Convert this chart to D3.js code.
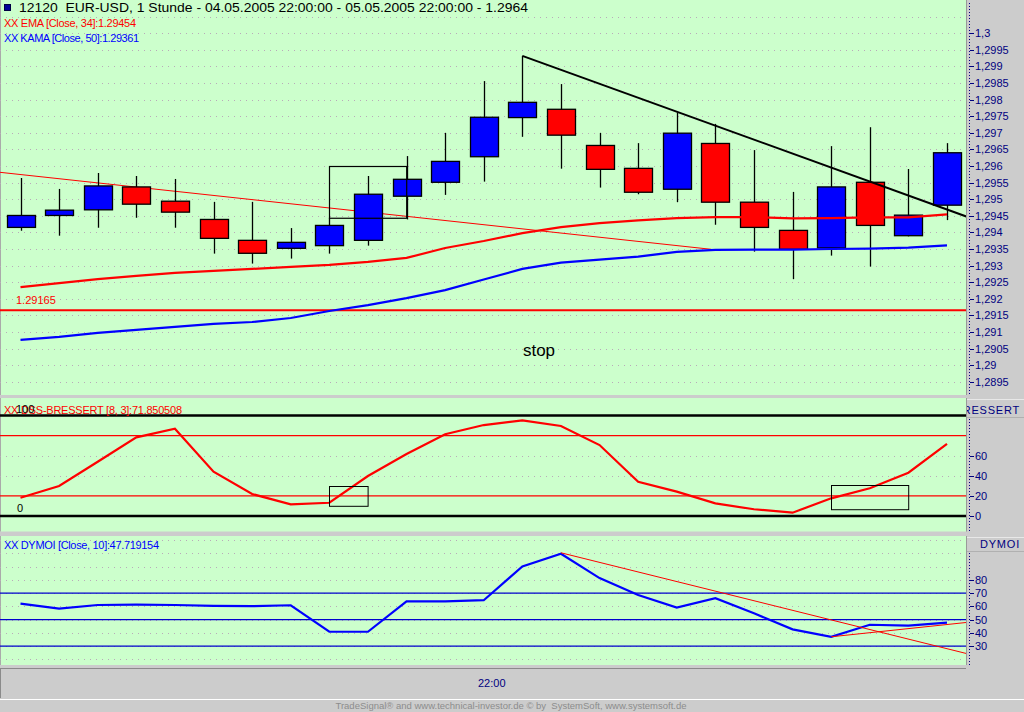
<!DOCTYPE html>
<html><head><meta charset="utf-8">
<script src="https://cdn.jsdelivr.net/npm/d3@7"></script>
<style>
html,body{margin:0;padding:0;background:#cccccc;}
svg{display:block;}
text{font-family:"Liberation Sans",Arial,sans-serif;}
</style></head><body>
<svg id="c" width="1024" height="712"></svg>
<script>
// ---------- DATA ----------
const times = ["22:00","23:00","00:00","01:00","02:00","03:00","04:00","05:00","06:00","07:00","08:00","09:00","10:00",
  "11:00","12:00","13:00","14:00","15:00","16:00","17:00","18:00","19:00","20:00","21:00","22:00"];
const open  = [1.29415,1.29451,1.29468,1.29537,1.29494,1.29439,1.29376,1.29352,1.29360,1.29376,1.29509,1.29551,1.29628,
  1.29746,1.29771,1.29662,1.29593,1.29530,1.29668,1.29491,1.29406,1.29353,1.29551,1.29390,1.29482];
const high  = [1.29564,1.29531,1.29579,1.29570,1.29561,1.29492,1.29492,1.29413,1.29444,1.29570,1.29630,1.29700,1.29856,
  1.29932,1.29847,1.29700,1.29669,1.29761,1.29727,1.29648,1.29522,1.29660,1.29717,1.29591,1.29669];
const low   = [1.29405,1.29390,1.29414,1.29444,1.29414,1.29336,1.29306,1.29321,1.29336,1.29360,1.29439,1.29513,1.29553,
  1.29688,1.29592,1.29535,1.29515,1.29491,1.29423,1.29342,1.29259,1.29330,1.29297,1.29388,1.29437];
const close = [1.29451,1.29467,1.29540,1.29485,1.29461,1.29382,1.29337,1.29370,1.29421,1.29515,1.29560,1.29614,1.29747,
  1.29792,1.29693,1.29590,1.29521,1.29699,1.29491,1.29415,1.29349,1.29537,1.29421,1.29452,1.29640];
const ema34 = [1.29235,1.29247,1.29259,1.29269,1.29278,1.29284,1.29290,1.29296,1.29302,1.29311,1.29323,1.29353,1.29374,
  1.29398,1.29416,1.29428,1.29436,1.29443,1.29446,1.29446,1.29442,1.29443,1.29445,1.29445,1.29454];
const kama50 = [1.29076,1.29085,1.29097,1.29106,1.29115,1.29124,1.29130,1.29142,1.29163,1.29181,1.29202,1.29226,1.29258,
  1.29290,1.29309,1.29318,1.29327,1.29341,1.29347,1.29348,1.29348,1.29350,1.29351,1.29354,1.29361];
const dss = [18.2,29.9,54.0,78.3,86.9,44.1,21.9,11.6,13.2,39.8,61.7,81.3,90.5,95.2,89.6,70.6,34.1,24.2,12.6,6.7,3.3,17.6,27.6,43.1,71.85];
const dymoi = [62.1,58.3,61.1,61.4,61.1,60.4,60.2,60.9,40.9,40.9,63.9,63.9,64.7,90.2,99.8,81.4,68.7,59.1,66.2,54.8,42.7,37.1,46.2,45.5,47.72];

const priceTicks = [1.3,1.2995,1.299,1.2985,1.298,1.2975,1.297,1.2965,1.296,1.2955,1.295,1.2945,1.294,1.2935,1.293,1.2925,1.292,1.2915,1.291,1.2905,1.29,1.2895];
const priceGrid = [1.3005].concat(priceTicks);
const dssTicks = [60,40,20,0];
const dssGrid = [60,40];
const dssRedLevels = [80,20];
const dssBlackLevels = [100,0];
const dymoiTicks = [80,70,60,50,40,30];
const dymoiGrid = [110,100,90,80,70,60,50,40,30,20];
const dymoiLevels = [70,50,30];
const xTicks = [{i:12, label:"22:00"}];

const stopLevel = 1.29165;
// annotations: [index, value] pairs
const thinRedTrend = [[-0.53,1.29581],[17.89,1.29349]];
const blackTrend = [[13,1.29932],[24.5,1.29448]];
const priceBox = {i0:8, i1:10, v0:1.29600, v1:1.29444};
const dssBoxes = [{i0:8,i1:9,v0:29.9,v1:10.2},{i0:21,i1:23,v0:30.8,v1:6.7}];
const dymoiTrends = [[[14,100.5],[24.5,24.5]],[[21,37.1],[24.5,47.9]]];

// ---------- LAYOUT ----------
const W = 1024, H = 712, plotR = 966;
const P = {top:[0,395], mid:[398,531.5], bot:[536,665]};
const GREEN = "#ccffcc", GRAY = "#cccccc", NAVY = "#000080";

const svg = d3.select("#c");
svg.append("rect").attr("width",W).attr("height",H).attr("fill",GRAY);

const x = d3.scaleLinear().domain([0, times.length-1]).range([20.5, 947]);
const yP = d3.scaleLinear().domain([1.2895, 1.3]).range([381.7, 33.3]);
const yD = d3.scaleLinear().domain([0,100]).range([516, 415.5]);
const yM = d3.scaleLinear().domain([30,70]).range([646.2, 593.2]);

const defs = svg.append("defs");
function panel(name, y0, y1){
  defs.append("clipPath").attr("id","clip-"+name).append("rect")
    .attr("x",0).attr("y",y0).attr("width",plotR).attr("height",y1-y0);
  svg.append("rect").attr("x",0).attr("y",y0).attr("width",plotR).attr("height",y1-y0).attr("fill",GREEN);
  svg.append("line").attr("x1",0.5).attr("x2",0.5).attr("y1",y0).attr("y2",y1).attr("stroke","#aaaaaa");
  svg.append("line").attr("x1",plotR+0.5).attr("x2",plotR+0.5).attr("y1",y0).attr("y2",y1).attr("stroke","#999999");
  return svg.append("g").attr("clip-path","url(#clip-"+name+")");
}
function hgrid(g, vals, y){
  g.selectAll(null).data(vals).enter().append("line")
    .attr("x1",0).attr("x2",plotR).attr("y1",d=>Math.round(y(d))+0.5).attr("y2",d=>Math.round(y(d))+0.5)
    .attr("stroke","#b9aab9").attr("stroke-dasharray","1 5");
}
function hlines(g, vals, y, color, w){
  g.selectAll(null).data(vals).enter().append("line")
    .attr("x1",0).attr("x2",plotR).attr("y1",d=>y(d)).attr("y2",d=>y(d))
    .attr("stroke",color).attr("stroke-width",w);
}
function rightAxis(y0, y1, axisTop, ticks, y, fmt, header){
  const g = svg.append("g");
  if(header){
    g.append("line").attr("x1",plotR+1).attr("x2",W).attr("y1",y0+1.5).attr("y2",y0+1.5).attr("stroke","#e8e8e8");
    defs.append("clipPath").attr("id","clip-h"+y0).append("rect").attr("x",plotR+1).attr("y",y0).attr("width",W-plotR).attr("height",20);
    g.append("text").attr("clip-path","url(#clip-h"+y0+")").attr("x",1020).attr("y",y0+header.dy)
      .attr("text-anchor","end").attr("fill",NAVY).attr("font-size",11).attr("letter-spacing",0.8).text(header.text);
    g.append("line").attr("x1",plotR+1).attr("x2",W).attr("y1",axisTop-1.5).attr("y2",axisTop-1.5).attr("stroke","#b0b0b0");
  }
  g.append("line").attr("x1",969.5).attr("x2",969.5).attr("y1",axisTop).attr("y2",y1)
    .attr("stroke",NAVY).attr("stroke-dasharray","1 2");
  const t = g.selectAll(null).data(ticks).enter().append("g").attr("transform",d=>`translate(0,${Math.round(y(d))+0.5})`);
  t.append("line").attr("x1",970).attr("x2",974).attr("stroke",NAVY);
  t.append("text").attr("x",975).attr("dy","0.36em").attr("fill",NAVY).attr("font-size",11).text(fmt);
}

// ---------- TOP PANEL ----------
const gT = panel("top", P.top[0], P.top[1]);
hgrid(gT, priceGrid, yP);
const line2 = (xs, ys) => d3.line().x(d=>xs(d[0])).y(d=>ys(d[1]));
gT.append("path").datum(thinRedTrend).attr("d",line2(x,yP)).attr("stroke","#ff0000").attr("fill","none").attr("stroke-width",1);
gT.append("line").attr("x1",0).attr("x2",plotR).attr("y1",yP(stopLevel)).attr("y2",yP(stopLevel)).attr("stroke","#ff0000").attr("stroke-width",2);
gT.append("text").attr("x",16).attr("y",yP(stopLevel)-6).attr("fill","#ff0000").attr("font-size",11).text(stopLevel.toString());

const idx = d3.range(times.length);
const cw = 28;
const cg = gT.append("g");
cg.selectAll(null).data(idx).enter().append("line")
  .attr("x1",i=>Math.round(x(i))+0.5).attr("x2",i=>Math.round(x(i))+0.5)
  .attr("y1",i=>yP(high[i])).attr("y2",i=>yP(low[i])).attr("stroke","#000").attr("stroke-width",1.3);
cg.selectAll(null).data(idx).enter().append("rect")
  .attr("x",i=>Math.round(x(i)-cw/2)+0.5).attr("width",cw)
  .attr("y",i=>yP(Math.max(open[i],close[i]))).attr("height",i=>Math.max(1,Math.abs(yP(open[i])-yP(close[i]))))
  .attr("fill",i=>close[i]>=open[i]?"#0000ff":"#ff0000").attr("stroke","#000").attr("stroke-width",1.3);

const valLine = (ys)=>d3.line().x((d,i)=>x(i)).y(d=>ys(d));
gT.append("path").datum(kama50).attr("d",valLine(yP)).attr("stroke","#0000ff").attr("stroke-width",2.2).attr("fill","none");
gT.append("path").datum(ema34).attr("d",valLine(yP)).attr("stroke","#ff0000").attr("stroke-width",2.2).attr("fill","none");

gT.append("rect").attr("x",Math.round(x(priceBox.i0))+0.5).attr("y",Math.round(yP(priceBox.v0))+0.5)
  .attr("width",x(priceBox.i1)-x(priceBox.i0)).attr("height",yP(priceBox.v1)-yP(priceBox.v0))
  .attr("fill","none").attr("stroke","#000").attr("stroke-width",1.2);
gT.append("path").datum(blackTrend).attr("d",line2(x,yP)).attr("stroke","#000").attr("stroke-width",2).attr("fill","none");

gT.append("text").attr("x",539).attr("y",356).attr("text-anchor","middle").attr("font-size",17).attr("fill","#000").text("stop");

// title + legends
gT.append("rect").attr("x",4.5).attr("y",4.5).attr("width",6).attr("height",6).attr("fill","#000099").attr("stroke","#000044");
gT.append("text").attr("x",19).attr("y",11.5).attr("font-size",12).attr("fill","#000").style("white-space","pre")
  .attr("textLength",509).attr("lengthAdjust","spacingAndGlyphs")
  .text("12120  EUR-USD, 1 Stunde - 04.05.2005 22:00:00 - 05.05.2005 22:00:00 - 1.2964");
gT.append("text").attr("x",4).attr("y",26.5).attr("font-size",11).attr("fill","#ff0000").attr("textLength",132).text("XX EMA [Close, 34]:1.29454");
gT.append("text").attr("x",4).attr("y",41.5).attr("font-size",11).attr("fill","#0000ff").attr("textLength",135).text("XX KAMA [Close, 50]:1.29361");

rightAxis(P.top[0], P.top[1], 3, priceTicks, yP, d=>(+d.toFixed(4)).toString().replace(".",","), null);

// ---------- MIDDLE PANEL ----------
const gM = panel("mid", P.mid[0], P.mid[1]);
hgrid(gM, dssGrid, yD);
hlines(gM, dssRedLevels, yD, "#ff0000", 1.3);
hlines(gM, dssBlackLevels, yD, "#000", 2.5);
gM.append("path").datum(dss).attr("d",valLine(yD)).attr("stroke","#ff0000").attr("stroke-width",2.2).attr("fill","none");
gM.selectAll(null).data(dssBoxes).enter().append("rect")
  .attr("x",d=>Math.round(x(d.i0))+0.5).attr("y",d=>Math.round(yD(d.v0))+0.5)
  .attr("width",d=>x(d.i1)-x(d.i0)).attr("height",d=>yD(d.v1)-yD(d.v0))
  .attr("fill","none").attr("stroke","#000").attr("stroke-width",1);
gM.append("text").attr("x",4).attr("y",413.5).attr("font-size",11).attr("fill","#ff0000").attr("textLength",178).text("XX DSS-BRESSERT [8, 3]:71.850508");
gM.append("text").attr("x",16).attr("y",413).attr("font-size",11).attr("fill","#000").text("100");
gM.append("text").attr("x",17).attr("y",512).attr("font-size",11).attr("fill","#000").text("0");
rightAxis(P.mid[0], P.mid[1], 419, dssTicks, yD, d=>d, {text:"DSS-BRESSERT", dy:16});

// ---------- BOTTOM PANEL ----------
const gB = panel("bot", P.bot[0], P.bot[1]);
hgrid(gB, dymoiGrid, yM);
hlines(gB, dymoiLevels, yM, "#0000cc", 1.2);
gB.append("path").datum(dymoi).attr("d",valLine(yM)).attr("stroke","#0000ff").attr("stroke-width",2.2).attr("fill","none");
gB.selectAll(null).data(dymoiTrends).enter().append("path").attr("d",line2(x,yM))
  .attr("stroke","#ff0000").attr("stroke-width",1).attr("fill","none");
gB.append("text").attr("x",4).attr("y",548.5).attr("font-size",11).attr("fill","#0000ff").attr("textLength",155).text("XX DYMOI [Close, 10]:47.719154");
rightAxis(P.bot[0], P.bot[1], 553, dymoiTicks, yM, d=>d, {text:"DYMOI", dy:12});

// ---------- X AXIS + FOOTER ----------
svg.append("line").attr("x1",0).attr("x2",plotR).attr("y1",668.5).attr("y2",668.5).attr("stroke","#8a8a8a");
svg.append("line").attr("x1",0.5).attr("x2",0.5).attr("y1",668).attr("y2",698).attr("stroke","#8a8a8a");
svg.append("line").attr("x1",0).attr("x2",W).attr("y1",699.5).attr("y2",699.5).attr("stroke","#ffffff");
svg.selectAll(null).data(xTicks).enter().append("text")
  .attr("x",d=>x(d.i)+8).attr("y",686.5).attr("text-anchor","middle").attr("font-size",11).attr("fill",NAVY).text(d=>d.label);
svg.append("text").attr("x",511).attr("y",709).attr("text-anchor","middle").attr("font-size",9.5).attr("fill","#8c8c8c")
  .style("white-space","pre").text("TradeSignal\u00ae and www.technical-investor.de \u00a9 by  SystemSoft, www.systemsoft.de");
</script>
</body></html>
